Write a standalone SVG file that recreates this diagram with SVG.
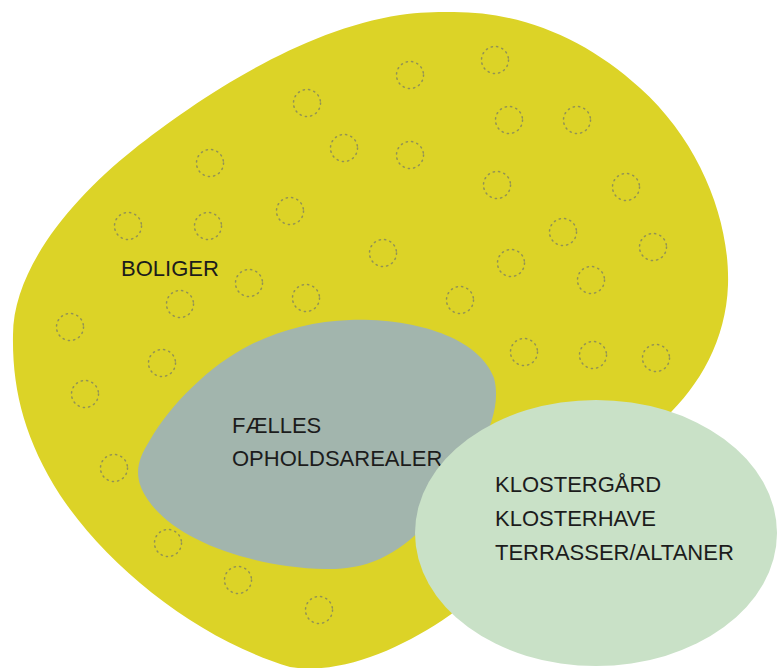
<svg xmlns="http://www.w3.org/2000/svg" width="779" height="668" viewBox="0 0 779 668">
<style>
.lbl{font-family:"Liberation Sans",Arial,sans-serif;font-size:22px;fill:#1c1c1c}
.dot{fill:none;stroke:#929255;stroke-width:1.5;stroke-dasharray:1.2 4.2;stroke-linecap:round}
</style>
<rect width="779" height="668" fill="#ffffff"/>
<g id="boliger">
<path d="M 450,12 C 520,11 585,38 640,88 C 700,142 730,220 728,285 C 726,340 700,385 665,418 L 600,500 L 450,615 C 400,650 340,675 290,667 C 200,640 110,570 60,495 C 25,440 12,390 13,335 C 13,270 70,200 133,150 C 196,100 300,30 400,15 C 420,12 435,12 450,12 Z" fill="#dcd327"/>
<g id="units">
<circle class="dot" cx="410" cy="75" r="13.5"/>
<circle class="dot" cx="495" cy="60" r="13.5"/>
<circle class="dot" cx="307" cy="103" r="13.5"/>
<circle class="dot" cx="509" cy="120" r="13.5"/>
<circle class="dot" cx="577" cy="120" r="13.5"/>
<circle class="dot" cx="344" cy="148" r="13.5"/>
<circle class="dot" cx="410" cy="155" r="13.5"/>
<circle class="dot" cx="210" cy="163" r="13.5"/>
<circle class="dot" cx="497" cy="185" r="13.5"/>
<circle class="dot" cx="626" cy="187" r="13.5"/>
<circle class="dot" cx="128" cy="226" r="13.5"/>
<circle class="dot" cx="208" cy="226" r="13.5"/>
<circle class="dot" cx="290" cy="211" r="13.5"/>
<circle class="dot" cx="563" cy="232" r="13.5"/>
<circle class="dot" cx="653" cy="247" r="13.5"/>
<circle class="dot" cx="383" cy="253" r="13.5"/>
<circle class="dot" cx="511" cy="263" r="13.5"/>
<circle class="dot" cx="249" cy="283" r="13.5"/>
<circle class="dot" cx="591" cy="280" r="13.5"/>
<circle class="dot" cx="180" cy="304" r="13.5"/>
<circle class="dot" cx="306" cy="298" r="13.5"/>
<circle class="dot" cx="460" cy="300" r="13.5"/>
<circle class="dot" cx="70" cy="327" r="13.5"/>
<circle class="dot" cx="162" cy="363" r="13.5"/>
<circle class="dot" cx="524" cy="352" r="13.5"/>
<circle class="dot" cx="593" cy="355" r="13.5"/>
<circle class="dot" cx="656" cy="358" r="13.5"/>
<circle class="dot" cx="85" cy="394" r="13.5"/>
<circle class="dot" cx="114" cy="468" r="13.5"/>
<circle class="dot" cx="168" cy="543" r="13.5"/>
<circle class="dot" cx="238" cy="580" r="13.5"/>
<circle class="dot" cx="319" cy="610" r="13.5"/>
</g>
<text class="lbl" x="121" y="276">BOLIGER</text>
</g>
<g id="faelles">
<path d="M 350,320 C 420,318 480,340 494,378 C 505,420 470,470 430,520 C 395,560 360,570 325,569 C 250,567 175,540 148,500 C 133,478 136,462 150,440 C 170,405 210,365 250,345 C 280,330 315,321 350,320 Z" fill="#a2b5ad"/>
<text class="lbl" x="232" y="433">FÆLLES</text>
<text class="lbl" x="232" y="466">OPHOLDSAREALER</text>
</g>
<g id="kloster">
<ellipse cx="596" cy="533" rx="181" ry="133" fill="#c9e1c7"/>
<text class="lbl" x="495" y="492">KLOSTERGÅRD</text>
<text class="lbl" x="495" y="526">KLOSTERHAVE</text>
<text class="lbl" x="495" y="560">TERRASSER/ALTANER</text>
</g>
<g id="connectors"/>
</svg>
